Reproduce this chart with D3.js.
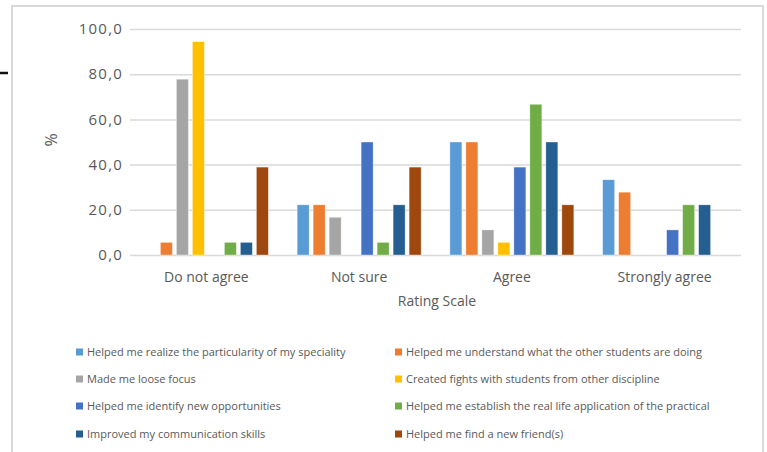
<!DOCTYPE html>
<html><head><meta charset="utf-8">
<script src="https://cdn.jsdelivr.net/npm/d3@7"></script>
<style>
html,body{margin:0;padding:0;background:#fff;}
svg{display:block;}
text{font-family:"Open Sans","Liberation Sans",Arial,sans-serif;fill:#595959;}
</style></head>
<body>
<svg id="chart" width="767" height="452"></svg>
<script>
const categories = ["Do not agree", "Not sure", "Agree", "Strongly agree"];
const seriesNames = [
  "Helped me realize the particularity of my speciality",
  "Helped me understand what the other students are doing",
  "Made me loose focus",
  "Created fights with students from other discipline",
  "Helped me identify new opportunities",
  "Helped me establish the real life application of the practical",
  "Improved my communication skills",
  "Helped me find a new friend(s)"
];
const seriesColors = ["#5B9BD5", "#ED7D31", "#A5A5A5", "#FFC000", "#4472C4", "#70AD47", "#255E91", "#9E480E"];
// values[series][category]
const s1 = [0, 22.2, 50.0, 33.3];
const s2 = [5.6, 22.2, 50.0, 27.8];
const s3 = [77.8, 16.7, 11.1, 0];
const s4 = [94.4, 0, 5.6, 0];
const s5 = [0, 50.0, 38.9, 11.1];
const s6 = [5.6, 5.6, 66.7, 22.2];
const s7 = [5.6, 22.2, 50.0, 22.2];
const s8 = [38.9, 38.9, 22.2, 0];
const seriesValues = [s1, s2, s3, s4, s5, s6, s7, s8];
const yTicks = [0, 20, 40, 60, 80, 100];
const yTickLabels = ["0,0", "20,0", "40,0", "60,0", "80,0", "100,0"];
const xTitle = "Rating Scale";
const yTitle = "%";

const svg = d3.select("#chart");

// frame
svg.append("rect").attr("x", 12).attr("y", 6).attr("width", 751).attr("height", 460)
  .attr("fill", "none").attr("stroke", "#d9d9d9").attr("stroke-width", 2);
// small dark mark at left edge
svg.append("line").attr("x1", 0).attr("x2", 8).attr("y1", 73).attr("y2", 73)
  .attr("stroke", "#111").attr("stroke-width", 2.5);

const x0 = d3.scaleBand().domain(categories).range([130, 741]).padding(0);
const x1 = d3.scaleBand().domain(d3.range(seriesNames.length)).range([0, x0.bandwidth()])
  .paddingInner(0.25).paddingOuter(0.9);
const y = d3.scaleLinear().domain([0, 100]).range([255, 29]);

// gridlines
svg.append("g").selectAll("line").data(yTicks).join("line")
  .attr("x1", 130).attr("x2", 741)
  .attr("y1", d => y(d) + 0.5).attr("y2", d => y(d) + 0.5)
  .attr("stroke", "#d9d9d9").attr("stroke-width", 1.5);

// y tick labels
svg.append("g").selectAll("text").data(yTicks).join("text")
  .attr("x", 123).attr("y", d => y(d)).attr("dy", "0.35em")
  .attr("text-anchor", "end").attr("font-size", 15).attr("letter-spacing", "1.2px")
  .attr("font-family", "'DejaVu Sans',sans-serif")
  .text((d, i) => yTickLabels[i]);

// bars
const groups = svg.append("g").selectAll("g").data(categories).join("g")
  .attr("transform", d => `translate(${x0(d)},0)`);
groups.selectAll("rect").data((c, ci) => seriesValues.map((vals, si) => ({si, v: vals[ci]})))
  .join("rect")
  .attr("x", d => x1(d.si)).attr("width", x1.bandwidth())
  .attr("y", d => y(d.v)).attr("height", d => y(0) - y(d.v))
  .attr("fill", d => seriesColors[d.si])
  .attr("stroke", "#fff").attr("stroke-width", 0.6).attr("stroke-opacity", 0.6);

// x labels
svg.append("g").selectAll("text").data(categories).join("text")
  .attr("x", d => x0(d) + x0.bandwidth() / 2).attr("y", 282)
  .attr("text-anchor", "middle").attr("font-size", 14)
  .text(d => d);

svg.append("text").attr("x", 437).attr("y", 306).attr("text-anchor", "middle")
  .attr("font-size", 14).text(xTitle);

svg.append("text").attr("transform", "translate(57,140) rotate(-90)")
  .attr("text-anchor", "middle").attr("font-size", 16).text(yTitle);

// legend
const legCols = [76, 395];
const legRows = [352, 379, 406, 434];
const leg = svg.append("g").selectAll("g").data(seriesNames).join("g")
  .attr("transform", (d, i) => `translate(${legCols[i % 2]},${legRows[Math.floor(i / 2)]})`);
leg.append("rect").attr("x", 0).attr("y", -3.5).attr("width", 7).attr("height", 7)
  .attr("fill", (d, i) => seriesColors[i]);
leg.append("text").attr("x", 11).attr("y", 0).attr("dy", "0.35em")
  .attr("font-size", 11).attr("font-family", "'Liberation Sans Narrow','Liberation Sans',Arial,sans-serif")
  .text(d => d);
</script>
</body></html>
